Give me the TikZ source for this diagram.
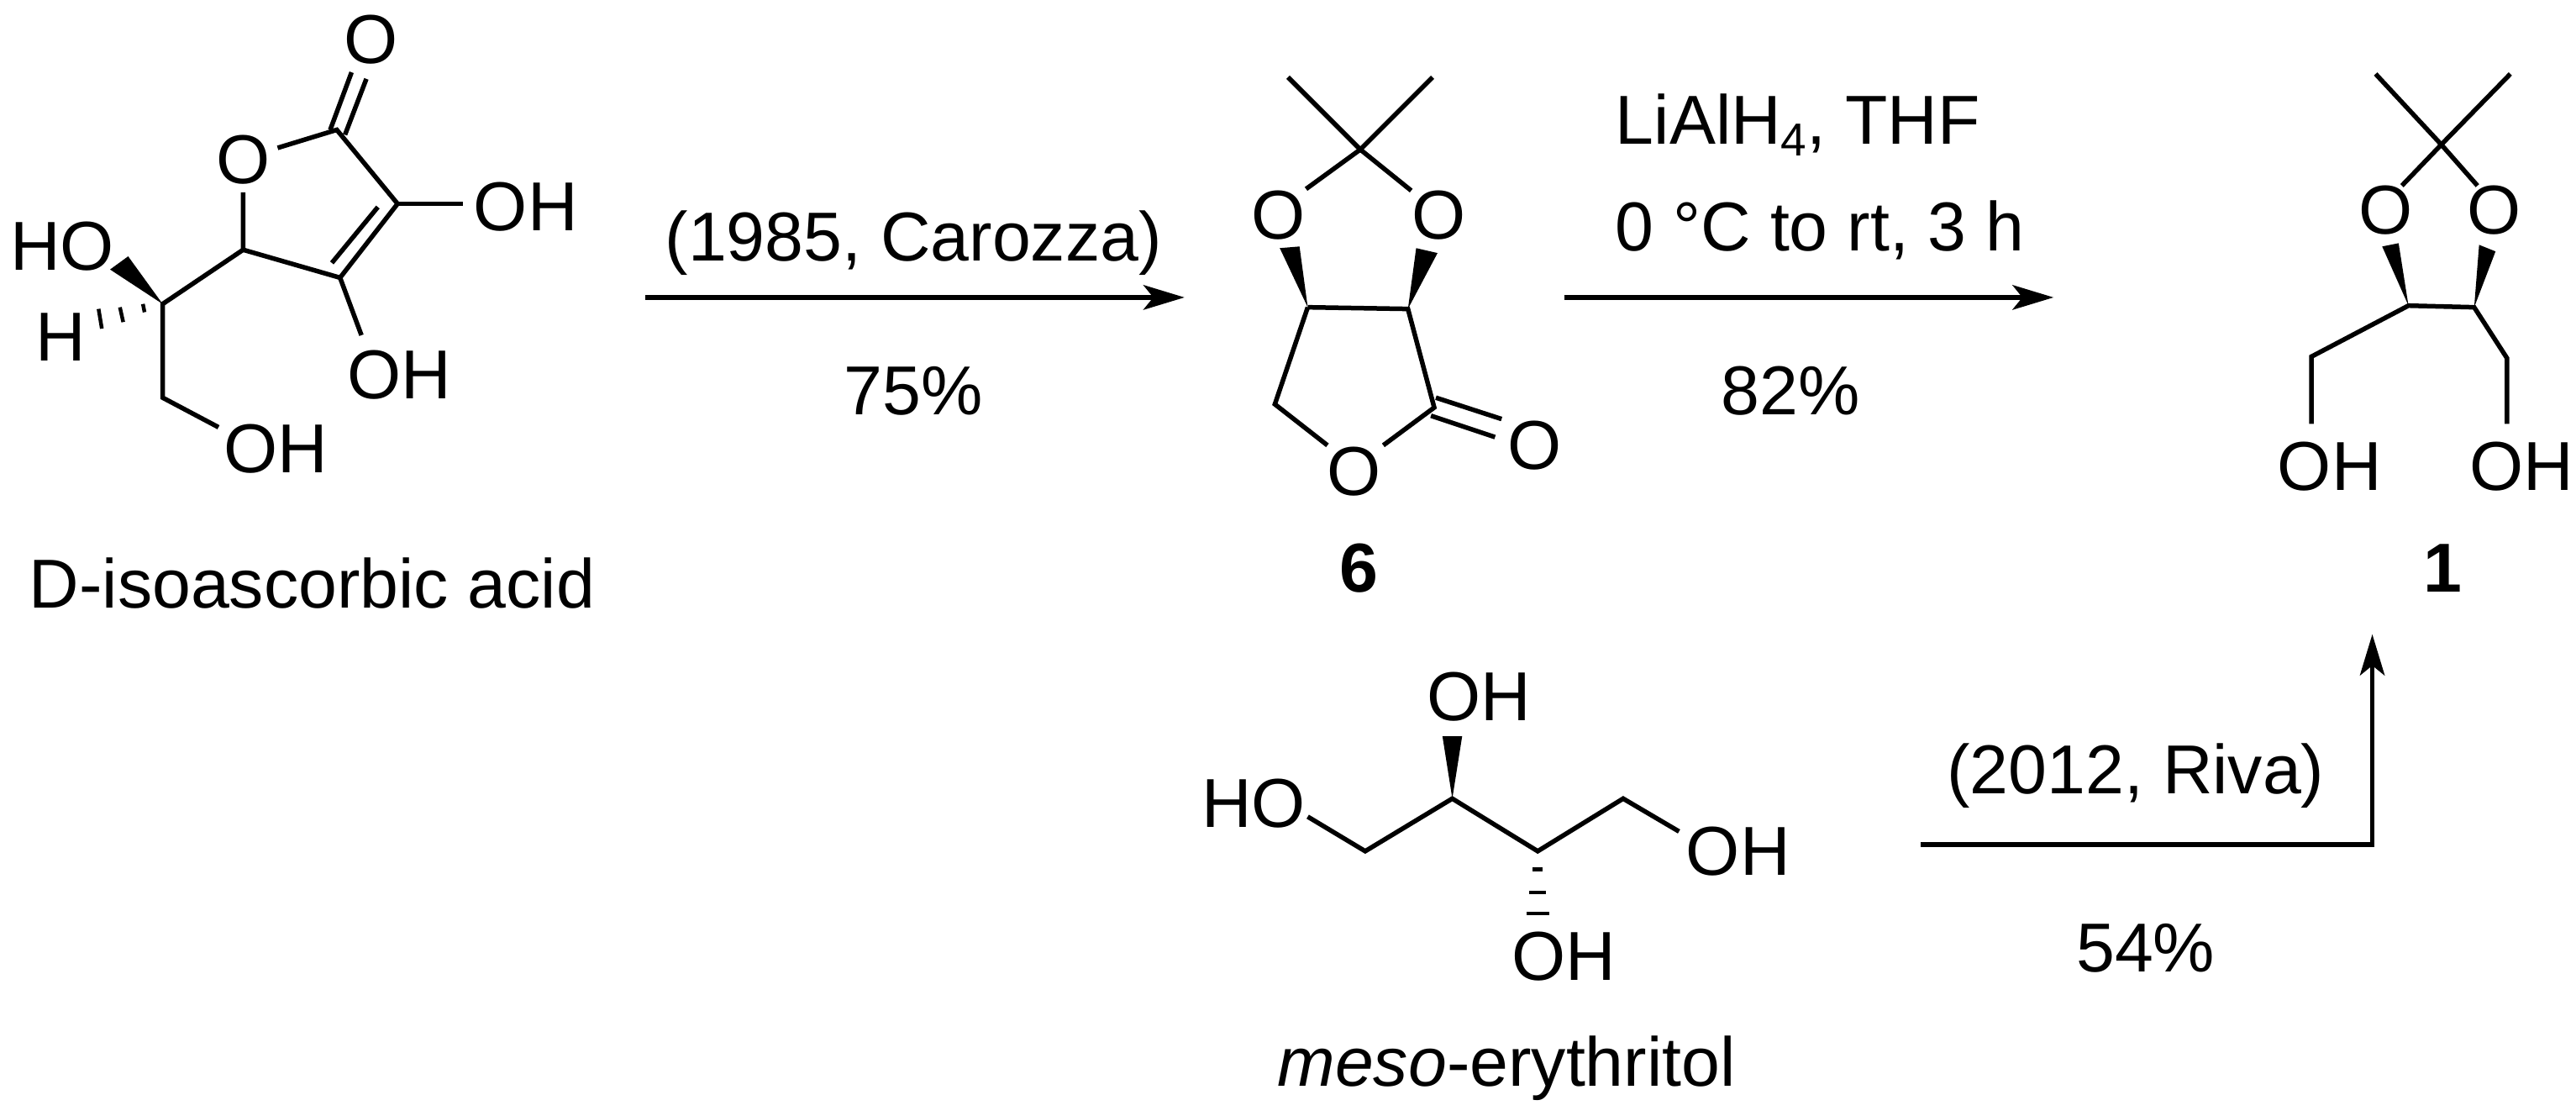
\documentclass[tikz,border=0pt]{standalone}
\usepackage{fontspec}
\setmainfont{Liberation Sans}
\usetikzlibrary{arrows.meta}
\begin{document}
\begin{tikzpicture}[x=0.02cm,y=-0.02cm,line width=1.6pt,
  atom/.style={inner sep=0pt,font=\fontsize{24}{28}\selectfont},
  lbl/.style={inner sep=0pt,font=\fontsize{24}{28}\selectfont},
  bond/.style={line width=1.6pt,line cap=butt},
  rxn/.style={line width=1.6pt,-{Stealth[length=0.5cm,width=0.3cm,inset=0.12cm]}}]
\useasboundingbox (0,0) rectangle (1568,679);
% ---------- D-isoascorbic acid ----------
\node[atom] (aO) at (148,97) {O};
\node[atom] (aO2) at (226,24) {O};
\node[atom] (aOH1) at (320,126) {OH};
\node[atom] (aOH2) at (243,228) {OH};
\node[atom] (aHO) at (38,150) {HO};
\node[atom] (aH) at (37,205) {H};
\node[atom] (aOH3) at (168,273) {OH};
\draw[bond] (169,90) -- (205,79) -- (242,124) -- (207,169) -- (148,152) -- (148,117);
\draw[bond] (201,79) -- (214,44);
\draw[bond] (210,82) -- (223,48);
\draw[bond] (230,126) -- (202,160);
\draw[bond] (242,124) -- (282,124);
\draw[bond] (207,169) -- (220,204);
\draw[bond] (148,152) -- (99,185) -- (99,242) -- (133,260);
\fill (99,185) -- (67,164) -- (78,156) -- cycle;
\draw[line width=1.3pt] (87,185) -- (88,190);
\draw[line width=1.3pt] (73,187) -- (75,196);
\draw[line width=1.3pt] (60,188) -- (62,200);
\node[lbl] (la) at (190,355) {D-isoascorbic acid};
% ---------- arrow 1 ----------
\coordinate (r1s) at (393,181); \coordinate (r1e) at (721,181);
\draw[rxn] (r1s) -- (r1e);
\node[lbl] (t1a) at (556,148) {(1985, Carozza)};
\node[lbl] (t1b) at (556,238) {75\%};
% ---------- compound 6 ----------
\node[atom] (bOL) at (778,131) {O};
\node[atom] (bOR) at (876,131) {O};
\node[atom] (bOr) at (824,287) {O};
\node[atom] (bO2) at (934,271) {O};
\draw[bond] (784,47) -- (828,91) -- (872,47);
\draw[bond] (795,115) -- (828,91) -- (859,116);
\fill (796,187) -- (779,151) -- (791,150) -- cycle;
\fill (857,188) -- (862,151) -- (875,154) -- cycle;
\draw[bond] (796,187) -- (857,188) -- (873,248) -- (842,271);
\draw[bond] (796,187) -- (776,246) -- (808,271);
\draw[bond] (874,242) -- (914,255);
\draw[bond] (871,253) -- (910,266);
\node[lbl,font=\fontsize{24}{28}\selectfont\bfseries] (l6) at (827,346) {6};
% ---------- arrow 2 ----------
\coordinate (r2s) at (952,181); \coordinate (r2e) at (1250,181);
\draw[rxn] (r2s) -- (r2e);
\node[lbl,anchor=west] (t2a) at (982,76) {LiAlH\raisebox{-0.3ex}{\fontsize{16}{18}\selectfont 4}, THF};
\node[lbl,anchor=west] (t2b) at (982,140) {0 °C to rt, 3 h};
\node[lbl] (t2c) at (1090,238) {82\%};
% ---------- compound 1 ----------
\node[atom] (cOL) at (1452,128) {O};
\node[atom] (cOR) at (1518,128) {O};
\node[atom] (cOH1) at (1418,284) {OH};
\node[atom] (cOH2) at (1535,284) {OH};
\draw[bond] (1446,45) -- (1486,88) -- (1528,45);
\draw[bond] (1462,113) -- (1486,88) -- (1508,113);
\fill (1466,186) -- (1450,150) -- (1460,148) -- cycle;
\fill (1506,187) -- (1509,149) -- (1519,153) -- cycle;
\draw[bond] (1407,258) -- (1407,217) -- (1466,186) -- (1506,187) -- (1526,218) -- (1526,258);
\node[lbl,font=\fontsize{24}{28}\selectfont\bfseries] (l1) at (1487,346) {1};
% ---------- meso-erythritol ----------
\node[atom] (dHO) at (763,489) {HO};
\node[atom] (dOHt) at (900,424) {OH};
\node[atom] (dOHb) at (952,582) {OH};
\node[atom] (dOHr) at (1058,518) {OH};
\draw[bond] (796,497) -- (831,518) -- (884,486) -- (936,518) -- (988,486) -- (1022,506);
\fill (884,486) -- (878,448) -- (890,448) -- cycle;
\draw[line width=1.3pt] (933,529) -- (939,529);
\draw[line width=1.3pt] (931,543) -- (941,543);
\draw[line width=1.3pt] (929,556) -- (943,556);
\node[lbl] (ld) at (917,650) {\textit{meso}-erythritol};
% ---------- arrow 3 ----------
\coordinate (r3s) at (1169,514); \coordinate (r3c) at (1444,514); \coordinate (r3e) at (1444,386);
\draw[rxn] (r3s) -- (r3c) -- (r3e);
\node[lbl] (t3a) at (1300,472) {(2012, Riva)};
\node[lbl] (t3b) at (1306,577) {54\%};
\end{tikzpicture}
\end{document}
